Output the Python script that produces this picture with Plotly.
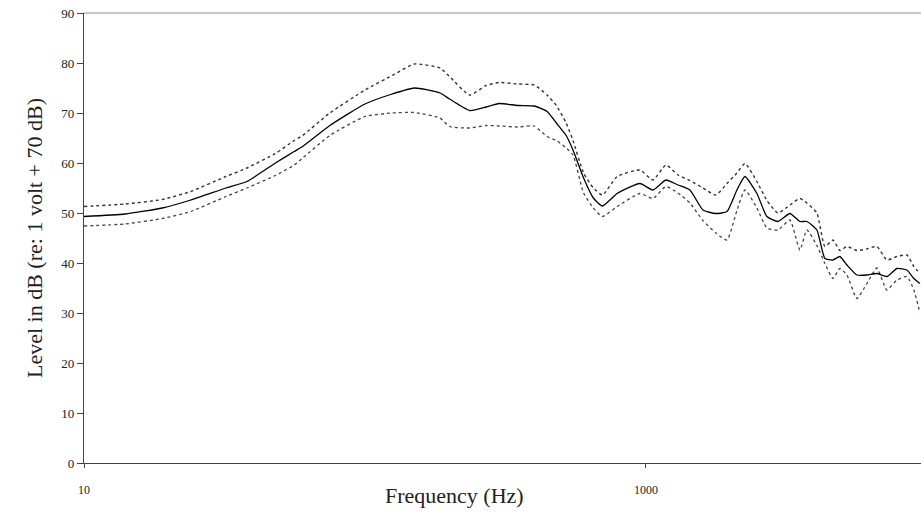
import plotly.graph_objects as go

freq_hz = [10, 14, 19, 24, 32, 38, 48, 56, 60, 75, 100, 125, 150, 185, 200, 236, 270, 300,
           350, 400, 445, 480, 520, 550, 600, 650, 700, 790,
           952, 1059, 1178, 1300, 1434, 1595, 1774, 1943, 2108, 2251, 2483, 2695, 2950,
           3254, 3532, 3741, 4059, 4335, 4629, 4901, 5192, 5636, 6116, 6638, 7204, 7820,
           8487, 8988, 9444]

mean_db = [49.3, 49.8, 51.0, 52.6, 55.0, 56.3, 60.0, 62.3, 63.3, 67.5, 71.8, 73.8, 75.0,
           74.0, 72.8, 70.5, 71.2, 71.9, 71.5, 71.4, 70.3, 68.0, 65.5, 62.6, 57.0, 53.0,
           51.4, 53.9,
           55.9, 54.6, 56.6, 55.6, 54.6, 50.6, 49.9, 50.3, 54.6, 57.3, 53.9, 49.3, 48.3,
           49.9, 48.3, 48.3, 46.6, 40.9, 40.6, 41.3, 39.6, 37.6, 37.6, 37.9, 37.3, 38.9,
           38.6, 36.9, 35.9]

upper_db = [51.3, 51.8, 52.7, 54.3, 57.3, 59.0, 61.9, 64.5, 65.5, 70.0, 74.6, 77.5, 79.8,
            79.0, 77.3, 73.6, 75.5, 76.1, 75.8, 75.6, 73.6, 71.5, 68.0, 64.5, 58.0, 55.0,
            53.6, 57.3,
            58.6, 56.6, 59.6, 57.6, 56.5, 55.0, 53.6, 55.9, 58.0, 59.9, 56.3, 52.5, 50.0,
            51.6, 52.9, 52.0, 50.0, 43.3, 44.6, 42.5, 43.3, 42.5, 42.8, 43.3, 40.6, 41.3,
            41.6, 39.3, 37.9]

lower_db = [47.4, 47.8, 48.9, 50.3, 53.3, 55.0, 57.5, 59.6, 61.0, 65.5, 69.3, 70.0, 70.1,
            69.0, 67.3, 67.0, 67.5, 67.4, 67.2, 67.4, 65.3, 64.5, 63.0, 61.6, 54.0, 51.0,
            49.3, 51.3,
            53.9, 52.9, 55.3, 54.0, 52.0, 48.5, 46.0, 44.6, 50.5, 54.6, 51.0, 47.0, 46.6,
            48.6, 42.6, 46.6, 43.5, 39.9, 36.9, 38.9, 37.6, 32.9, 35.9, 39.0, 34.6, 36.6,
            37.3, 34.6, 30.0]

x_ticks = [10, 1000]
x_tick_text = ["10", "1000"]
y_ticks = [0, 10, 20, 30, 40, 50, 60, 70, 80, 90]

SERIF = "Liberation Serif, Times New Roman, serif"

fig = go.Figure()
fig.add_trace(go.Scatter(x=freq_hz, y=upper_db, mode="lines",
                         line=dict(color="#333333", width=1.4, dash="dot",
                                   shape="spline", smoothing=0.5)))
fig.add_trace(go.Scatter(x=freq_hz, y=lower_db, mode="lines",
                         line=dict(color="#444444", width=1.3, dash="3px,3px",
                                   shape="spline", smoothing=0.5)))
fig.add_trace(go.Scatter(x=freq_hz, y=mean_db, mode="lines",
                         line=dict(color="#000000", width=1.3,
                                   shape="spline", smoothing=0.5)))

fig.update_layout(
    width=921, height=520,
    margin=dict(l=84, r=0, t=13, b=57),
    paper_bgcolor="white", plot_bgcolor="white",
    showlegend=False,
    font=dict(family=SERIF, color="#222222"),
    xaxis=dict(type="log", range=[1, 3.979], tickvals=x_ticks, ticktext=x_tick_text,
               ticks="outside", ticklen=4, tickcolor="#444444",
               showline=True, linecolor="#444444", linewidth=1.3,
               showgrid=False, zeroline=False,
               tickfont=dict(family=SERIF, size=12, color="#222222"),
               ticklabelstandoff=11),
    yaxis=dict(range=[0, 90], tickvals=y_ticks, ticks="outside", ticklen=6,
               tickcolor="#444444", showline=True, linecolor="#444444", linewidth=1.3,
               showgrid=False, zeroline=False,
               tickfont=dict(family=SERIF, size=13, color="#222222"),
               title=dict(text="Level in dB (re: 1 volt + 70 dB)",
                          font=dict(family=SERIF, size=22, color="#222222"),
                          standoff=12)),
    shapes=[dict(type="line", xref="paper", yref="paper", x0=0, x1=1, y0=1, y1=1,
                 line=dict(color="#b4b4b4", width=1.5))],
    annotations=[dict(text="Frequency (Hz)", xref="paper", yref="paper",
                      x=0.443, y=-0.072, xanchor="center", yanchor="middle",
                      showarrow=False,
                      font=dict(family=SERIF, size=22, color="#222222"))],
)

fig.write_html("out.html")
